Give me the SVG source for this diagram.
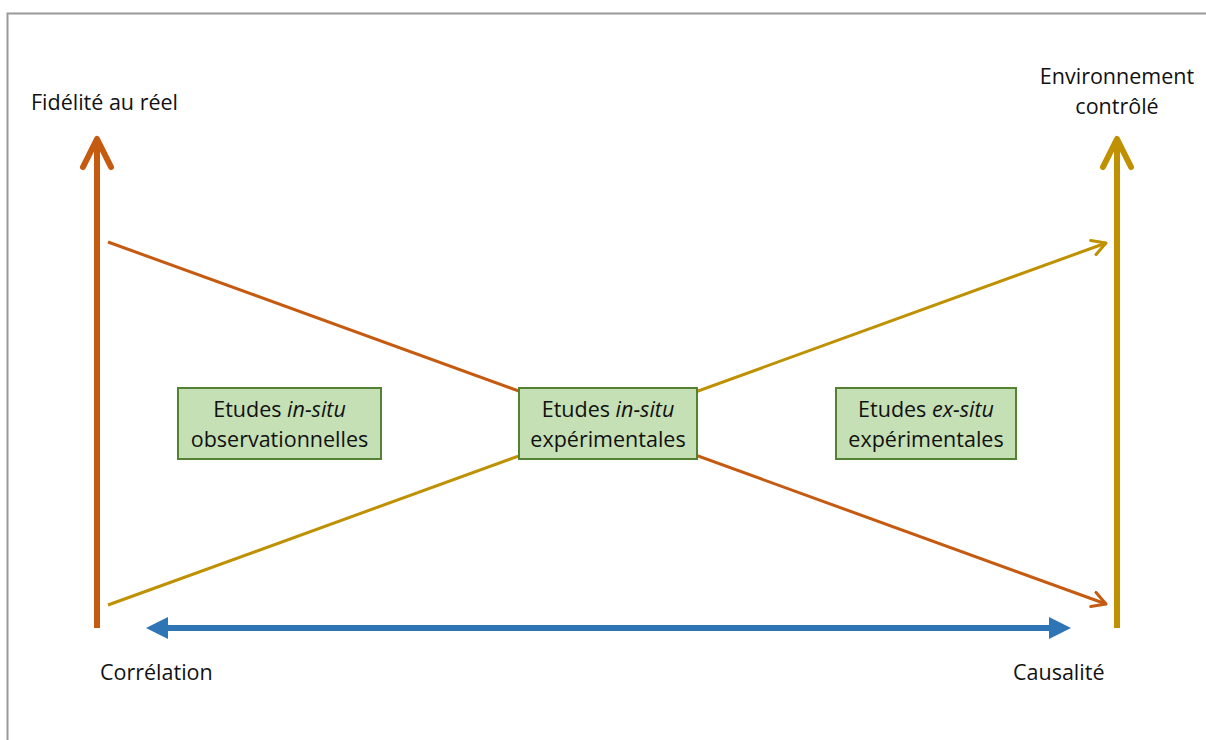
<svg xmlns="http://www.w3.org/2000/svg" width="1206" height="740" viewBox="0 0 1206 740">
<style>
text{font-family:"Open Sans","Liberation Sans",sans-serif;font-size:21.5px;fill:#111}
.box{fill:#C5E0B4;stroke:#548235;stroke-width:2}
.c{text-anchor:middle}
</style>
<defs>
<marker id="oOr" viewBox="0 0 12 12" refX="10" refY="6" markerWidth="6" markerHeight="6" markerUnits="strokeWidth" orient="auto"><path d="M1,1 L10,6 L1,11" fill="none" stroke="#C55A11" stroke-width="2" stroke-linecap="round" stroke-linejoin="round"/></marker>
<marker id="oGd" viewBox="0 0 12 12" refX="10" refY="6" markerWidth="6" markerHeight="6" markerUnits="strokeWidth" orient="auto"><path d="M1,1 L10,6 L1,11" fill="none" stroke="#BF9000" stroke-width="2" stroke-linecap="round" stroke-linejoin="round"/></marker>
</defs>
<rect x="0" y="0" width="1206" height="740" fill="#fff"/>
<path d="M7.5,740 V13.5 H1206" fill="none" stroke="#999" stroke-width="2"/>
<g id="connectors">
<path d="M97,628 V140" stroke="#C55A11" stroke-width="6" fill="none"/>
<path d="M83,167 L97,139 L111,167" stroke="#C55A11" stroke-width="6" fill="none" stroke-linecap="round" stroke-linejoin="round"/>
<path d="M1117,628 V140" stroke="#BF9000" stroke-width="6" fill="none"/>
<path d="M1103,167 L1117,139 L1131,167" stroke="#BF9000" stroke-width="6" fill="none" stroke-linecap="round" stroke-linejoin="round"/>
<path d="M108,242 L1106,604" stroke="#C55A11" stroke-width="3" fill="none" marker-end="url(#oOr)"/>
<path d="M108,605 L1106,243" stroke="#BF9000" stroke-width="3" fill="none" marker-end="url(#oGd)"/>
<path d="M165,628 L1052,628" stroke="#2E75B6" stroke-width="6" fill="none"/>
<path d="M146,628 L168,617 L168,639 Z" fill="#2E75B6"/>
<path d="M1071,628 L1049,617 L1049,639 Z" fill="#2E75B6"/>
</g>
<g id="n1"><rect class="box" x="178" y="388" width="203" height="71"/>
<text class="c" x="279.5" y="417">Etudes <tspan font-style="italic">in-situ</tspan></text>
<text class="c" x="279.5" y="447">observationnelles</text></g>
<g id="n2"><rect class="box" x="519" y="388" width="178" height="71"/>
<text class="c" x="608" y="417">Etudes <tspan font-style="italic">in-situ</tspan></text>
<text class="c" x="608" y="447">expérimentales</text></g>
<g id="n3"><rect class="box" x="836" y="388" width="180" height="71"/>
<text class="c" x="926" y="417">Etudes <tspan font-style="italic">ex-situ</tspan></text>
<text class="c" x="926" y="447">expérimentales</text></g>
<g id="labels">
<text x="31" y="110">Fidélité au réel</text>
<text class="c" x="1117" y="84">Environnement</text>
<text class="c" x="1117" y="114">contrôlé</text>
<text x="100" y="680">Corrélation</text>
<text x="1013" y="680">Causalité</text>
</g>
</svg>
